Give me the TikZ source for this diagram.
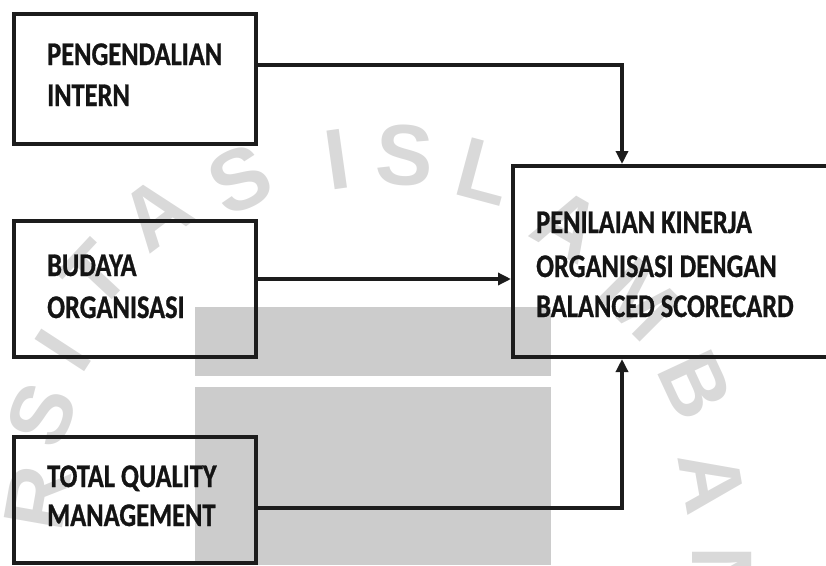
\documentclass[tikz,border=0pt]{standalone}
\usepackage{fontspec}
\setmainfont{Carlito}
\newfontfamily\lblfont{Carlito}[FakeStretch=0.8,FakeBold=0.8]
\newfontfamily\wmfont{Liberation Sans}
\usetikzlibrary{arrows.meta,calc}
\definecolor{linecol}{HTML}{1C1C1C}
\begin{document}
\begin{tikzpicture}[x=1pt,y=-1pt,
  box/.style={draw=linecol,line width=4pt,inner sep=0pt,outer sep=0pt},
  lbl/.style={anchor=base west,inner sep=0pt,font=\lblfont\bfseries\fontsize{33}{36}\selectfont,text=black!92},
  conn/.style={draw=linecol,line width=4pt,shorten >=2pt,-{Triangle[length=13pt,width=12pt]}},
  wm/.style={text=black!15,font=\wmfont\bfseries\fontsize{86}{90}\selectfont,inner sep=0pt},
]
\useasboundingbox (0,0) rectangle (826,565);
% watermark
\fill[black!20] (195,307) rectangle (551,376);
\fill[black!20] (195,387) rectangle (551,565);
\node[wm,rotate=80]  (w1) at (38,498) {R};
\node[wm,rotate=68]  (w2) at (42,415) {S};
\node[wm,rotate=57]  (w3) at (63,350) {I};
\node[wm,rotate=47]  (w4) at (95,275) {T};
\node[wm,rotate=37]  (w5) at (155,213) {A};
\node[wm,rotate=25]  (w6) at (240,180) {S};
\node[wm,rotate=8]   (w7) at (337,160) {I};
\node[wm,rotate=-3]  (w8) at (405,155) {S};
\node[wm,rotate=-15] (w9) at (485,172) {L};
\node[wm,rotate=-30] (w10) at (568,225) {A};
\node[wm,rotate=-45] (w11) at (640,300) {M};
\node[wm,rotate=-65] (w12) at (695,385) {B};
\node[wm,rotate=-80] (w13) at (712,482) {A};
\node[wm,rotate=-90] (w14) at (722,578) {N};
% boxes
\node[box,minimum width=242pt,minimum height=130pt] (b1) at (135,79) {};
\node[box,minimum width=242pt,minimum height=136pt] (b2) at (135,289) {};
\node[box,minimum width=242pt,minimum height=126pt] (b3) at (135,500) {};
\node[inner sep=0pt,outer sep=0pt,minimum width=313pt,minimum height=191pt] (b4) at (669.5,261.5) {};
\draw[linecol,line width=4pt] (b4.north east) -- (b4.north west) -- (b4.south west) -- (b4.south east);
% labels
\node[lbl] (t1a) at (47,65) {PENGENDALIAN};
\node[lbl] (t1b) at (47,106) {INTERN};
\node[lbl] (t2a) at (47,276) {BUDAYA};
\node[lbl] (t2b) at (47,318) {ORGANISASI};
\node[lbl] (t3a) at (47,487) {TOTAL QUALITY};
\node[lbl] (t3b) at (47,526) {MANAGEMENT};
\node[lbl] (t4a) at (536,233) {PENILAIAN KINERJA};
\node[lbl] (t4b) at (536,277) {ORGANISASI DENGAN};
\node[lbl] (t4c) at (536,317) {BALANCED SCORECARD};
% connectors
\draw[conn] ([yshift=14pt]b1.east) -| ([xshift=109pt]b4.north west);
\draw[conn] ([yshift=10pt]b2.east) -- ([yshift=10pt]b2.east -| b4.west);
\draw[conn] ([yshift=-8pt]b3.east) -| ([xshift=109pt]b4.south west);
\end{tikzpicture}
\end{document}
